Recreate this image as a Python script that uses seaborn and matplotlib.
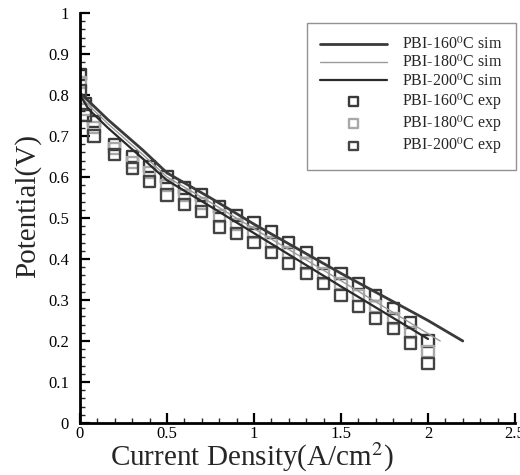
import numpy as np
import pandas as pd
import matplotlib
matplotlib.use("Agg")
import matplotlib.pyplot as plt
from matplotlib.ticker import MultipleLocator, FormatStrFormatter
import seaborn as sns

# ---- data ----
sim_x_160 = [0, 0.05, 0.16, 0.36, 0.5, 0.75, 1.0, 1.5, 2.0, 2.2]
sim_v_160 = [0.805, 0.785, 0.74, 0.666, 0.61, 0.549, 0.485, 0.365, 0.25, 0.20]
sim_x_180 = [0, 0.05, 0.16, 0.36, 0.5, 0.75, 1.0, 1.5, 2.07]
sim_v_180 = [0.80, 0.775, 0.73, 0.655, 0.60, 0.538, 0.474, 0.347, 0.20]
sim_x_200 = [0, 0.05, 0.16, 0.36, 0.5, 0.75, 1.0, 1.5, 2.0]
sim_v_200 = [0.80, 0.765, 0.72, 0.645, 0.592, 0.528, 0.463, 0.333, 0.205]

exp_x = [0, 0.03, 0.08, 0.2, 0.3, 0.4, 0.5, 0.6, 0.7, 0.8, 0.9, 1.0,
         1.1, 1.2, 1.3, 1.4, 1.5, 1.6, 1.7, 1.8, 1.9, 2.0]
exp_v_160 = [0.85, 0.78, 0.735, 0.68, 0.65, 0.625, 0.60, 0.573, 0.556, 0.527, 0.507, 0.488,
             0.466, 0.44, 0.415, 0.39, 0.365, 0.34, 0.31, 0.28, 0.245, 0.20]
exp_v_180 = [0.83, 0.765, 0.72, 0.67, 0.635, 0.61, 0.58, 0.555, 0.535, 0.505, 0.485, 0.465,
             0.44, 0.415, 0.39, 0.365, 0.34, 0.31, 0.285, 0.255, 0.22, 0.175]
exp_v_200 = [0.81, 0.75, 0.70, 0.655, 0.62, 0.59, 0.556, 0.532, 0.515, 0.478, 0.463, 0.44,
             0.415, 0.39, 0.365, 0.34, 0.31, 0.285, 0.255, 0.23, 0.195, 0.146]

sim_labels = [r"PBI-160$^0$C sim", r"PBI-180$^0$C sim", r"PBI-200$^0$C sim"]
exp_labels = [r"PBI-160$^0$C exp", r"PBI-180$^0$C exp", r"PBI-200$^0$C exp"]

x_ticks = [0, 0.5, 1, 1.5, 2, 2.5]
y_ticks = [0, 0.1, 0.2, 0.3, 0.4, 0.5, 0.6, 0.7, 0.8, 0.9, 1]

# ---- style ----
sns.set_style("ticks")
plt.rcParams["font.family"] = ["Liberation Serif", "DejaVu Serif"]
plt.rcParams["mathtext.fontset"] = "stix"

fig = plt.figure(figsize=(5.2, 4.75), dpi=100)
ax = fig.add_axes([80 / 520, (475 - 423) / 475, (515 - 80) / 520, (423 - 13) / 475])

sim_df = pd.concat([
    pd.DataFrame({"x": sim_x_160, "v": sim_v_160, "s": sim_labels[0]}),
    pd.DataFrame({"x": sim_x_180, "v": sim_v_180, "s": sim_labels[1]}),
    pd.DataFrame({"x": sim_x_200, "v": sim_v_200, "s": sim_labels[2]}),
])
exp_df = pd.concat([
    pd.DataFrame({"x": exp_x, "v": exp_v_160, "s": exp_labels[0]}),
    pd.DataFrame({"x": exp_x, "v": exp_v_180, "s": exp_labels[1]}),
    pd.DataFrame({"x": exp_x, "v": exp_v_200, "s": exp_labels[2]}),
])

sim_colors = ["#3a3a3a", "#9a9a9a", "#2a2a2a"]
sim_widths = [2.0, 1.0, 1.6]
exp_colors = ["#3a3a3a", "#a8a8a8", "#444444"]

for lab, c, w in zip(sim_labels, sim_colors, sim_widths):
    sns.lineplot(data=sim_df[sim_df.s == lab], x="x", y="v", color=c, lw=w,
                 ax=ax, label=lab, sort=False, estimator=None)

for lab, c in zip(exp_labels, exp_colors):
    sns.scatterplot(data=exp_df[exp_df.s == lab], x="x", y="v", marker="s", s=65,
                    facecolors="none", edgecolor=c, linewidth=1.7, ax=ax, label=lab)

ax.set_xlim(0, 2.5)
ax.set_ylim(0, 1)
ax.set_xticks(x_ticks)
ax.set_yticks(y_ticks)
ax.xaxis.set_major_formatter(FormatStrFormatter("%g"))
ax.yaxis.set_major_formatter(FormatStrFormatter("%g"))
ax.xaxis.set_minor_locator(MultipleLocator(0.1))
ax.yaxis.set_minor_locator(MultipleLocator(0.02))
ax.tick_params(which="major", direction="in", length=7, width=1.6, labelsize=12, colors="black")
ax.tick_params(which="minor", direction="in", length=3.5, width=1.0)
ax.tick_params(axis="x", pad=2)
ax.tick_params(axis="y", pad=8)

for sp in ["top", "right"]:
    ax.spines[sp].set_visible(False)
for sp in ["left", "bottom"]:
    ax.spines[sp].set_linewidth(2)
    ax.spines[sp].set_color("black")

ax.set_xlabel(r"Current Density(A/cm$^2$)", fontsize=21)
ax.xaxis.set_label_coords((252 - 80) / 435, -0.044, transform=ax.transAxes)
ax.xaxis.label.set_va("top")
ax.set_ylabel("Potential(V)", fontsize=21)
ax.yaxis.set_label_coords(-0.09, 0.53, transform=ax.transAxes)

leg = ax.legend(loc="upper right", bbox_to_anchor=(1.02, 0.995), fontsize=11.5,
                frameon=True, fancybox=False, handlelength=4.2, handletextpad=0.9,
                borderpad=0.85, labelspacing=0.1, markerscale=0.8)
leg.get_frame().set_edgecolor("#777777")
leg.get_frame().set_linewidth(1.0)

fig.savefig("out.png", dpi=100)
